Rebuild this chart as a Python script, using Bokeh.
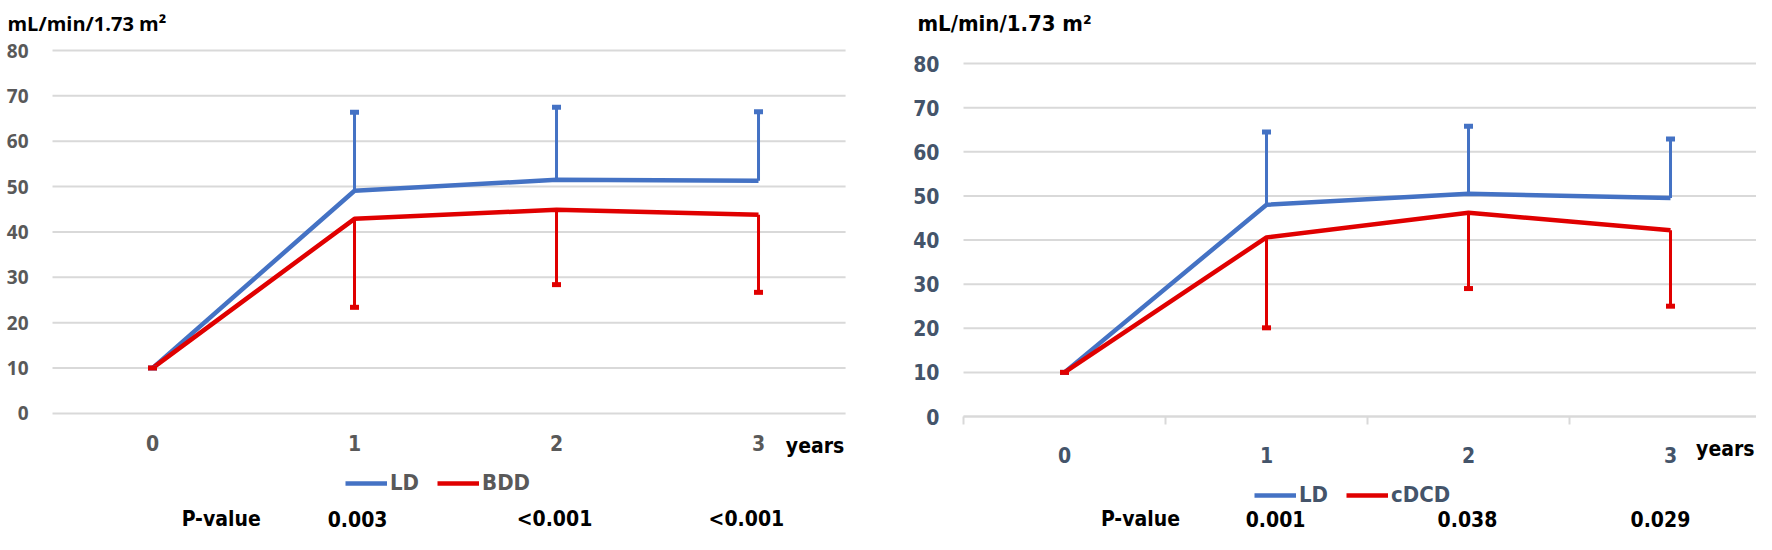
from bokeh.plotting import figure
from bokeh.models import FixedTicker, Range1d, Legend, LegendItem, Label
from bokeh.layouts import row
from bokeh.embed import file_html
from bokeh.resources import INLINE
from bokeh.core.properties import value

# ---------------- data ----------------
years = [0, 1, 2, 3]
year_labels = ["0", "1", "2", "3"]
y_ticks = [0, 10, 20, 30, 40, 50, 60, 70, 80]
unit_title = "mL/min/1.73 m\u00b2"
x_unit = "years"
p_header = "P-value"

ld_a = [10, 49.1, 51.5, 51.3]
ld_a_upper = [10, 66.4, 67.5, 66.5]
bdd = [10, 42.9, 44.9, 43.8]
bdd_lower = [10, 23.4, 28.4, 26.7]
p_a = ["0.003", "<0.001", "<0.001"]

ld_b = [10, 48.0, 50.5, 49.5]
ld_b_upper = [10, 64.5, 65.8, 62.9]
cdcd = [10, 40.6, 46.2, 42.2]
cdcd_lower = [10, 20.1, 29.0, 25.0]
p_b = ["0.001", "0.038", "0.029"]

BLUE = "#4472C4"
RED = "#E00000"
GRID = "#D9D9D9"
NARROW = "'Liberation Sans Narrow', 'DejaVu Sans Condensed', 'Roboto', sans-serif"


def panel(name2, m1, up1, m2, lo2, pvals, cfg):
    p = figure(width=878, height=534, output_backend="svg", toolbar_location=None,
               x_range=Range1d(cfg["x0"], cfg["x1"]), y_range=Range1d(cfg["y0"], cfg["y1"]),
               min_border_left=0, min_border_right=0, min_border_top=0, min_border_bottom=0)
    p.outline_line_color = None
    p.xgrid.visible = False
    p.ygrid.visible = False

    # horizontal gridlines (from the y tick values)
    n = len(y_ticks)
    p.segment(x0=[cfg["gx0"]] * n, y0=y_ticks, x1=[cfg["gx1"]] * n, y1=y_ticks,
              line_color=GRID, line_width=2)

    # y axis, fixed at the left end of the gridlines
    yax = p.yaxis[0]
    yax.fixed_location = cfg["gx0"]
    yax.ticker = FixedTicker(ticks=y_ticks)
    yax.axis_line_color = None
    yax.major_tick_line_color = None
    yax.minor_tick_line_color = None
    yax.major_tick_out = 0
    yax.major_label_standoff = 24
    yax.major_label_text_font = cfg["yfont"]
    yax.major_label_text_font_size = cfg["yfs"]
    yax.major_label_text_font_style = "bold"
    yax.major_label_text_color = cfg["tc"]

    # x axis at y = 0
    xax = p.xaxis[0]
    xax.fixed_location = 0
    xax.bounds = (cfg["gx0"], cfg["gx1"])
    xax.ticker = FixedTicker(ticks=years, minor_ticks=cfg["minor"])
    xax.major_label_overrides = {y: l for y, l in zip(years, year_labels)}
    xax.major_tick_line_color = None
    xax.major_tick_out = 0
    xax.major_tick_in = 0
    xax.minor_tick_in = 0
    xax.minor_tick_out = 8
    xax.minor_tick_line_color = GRID if cfg["minor"] else None
    xax.minor_tick_line_width = 2
    xax.axis_line_color = GRID if cfg["minor"] else None
    xax.axis_line_width = 2
    xax.major_label_standoff = 22
    xax.major_label_text_font = NARROW
    xax.major_label_text_font_size = "21px"
    xax.major_label_text_font_style = "bold"
    xax.major_label_text_color = cfg["tc"]

    # lines
    r1 = p.line(years, m1, line_color=BLUE, line_width=4.5, line_join="round")
    r2 = p.line(years, m2, line_color=RED, line_width=4.5, line_join="round")
    # error bars
    p.segment(years, m1, years, up1, line_color=BLUE, line_width=3)
    p.scatter(years, up1, marker="dash", size=9, line_width=5, line_color=BLUE)
    p.segment(years, m2, years, lo2, line_color=RED, line_width=3)
    p.scatter(years, lo2, marker="dash", size=9, line_width=5, line_color=RED)

    # "years" label
    p.text(x=[cfg["yrx"]], y=[cfg["yry"]], text=[x_unit], text_align=cfg["yra"],
           text_baseline="middle", text_font=value(NARROW), text_font_size="21px",
           text_font_style="bold", text_color="#000000")

    # P-value row
    ptxt = [p_header] + pvals
    p.text(x=cfg["px"], y=[cfg["py"]] * len(ptxt), text=ptxt, text_align="center",
           text_baseline="middle", text_font=value(NARROW), text_font_size="21px",
           text_font_style="bold", text_color="#000000")

    # unit title
    p.add_layout(Label(x=cfg["tx"], y=cfg["ty"], text=unit_title, text_font=cfg["tfont"],
                       text_font_size=cfg["tfs"], text_font_style="bold", text_color="#000000",
                       text_baseline="alphabetic", text_align="left"))

    leg = Legend(items=[LegendItem(label="LD", renderers=[r1]), LegendItem(label=name2, renderers=[r2])],
                 location=cfg["legloc"], orientation="horizontal", glyph_width=42, glyph_height=20,
                 label_standoff=3, spacing=18, padding=0, margin=0, border_line_color=None,
                 background_fill_alpha=0, label_text_font=NARROW, label_text_font_size="22px",
                 label_text_font_style="bold", label_text_color=cfg["tc"])
    p.add_layout(leg)
    return p


cfg_a = dict(x0=-0.7525, x1=3.594, y0=-26.67, y1=91.02, gx0=-0.495, gx1=3.431,
             yfont="'Open Sans', sans-serif", yfs="19px", tc="#595959",
             minor=[], yrx=3.28, yry=-7.27, yra="center",
             px=[0.34, 1.015, 1.99, 2.94], py=-23.2,
             tx=-0.718, ty=85.95, tfont="'Open Sans', sans-serif", tfs="20px",
             legloc=(345, 39))
cfg_b = dict(x0=-0.9208, x1=3.4257, y0=-26.74, y1=94.28, gx0=-0.5, gx1=3.4257,
             yfont=NARROW, yfs="21px", tc="#44546A",
             minor=[-0.5, 0.5, 1.5, 2.5], yrx=3.416, yry=-7.25, yra="right",
             px=[0.376, 1.045, 1.995, 2.95], py=-23.2,
             tx=-0.728, ty=89.07, tfont=NARROW, tfs="22px",
             legloc=(376, 27))

pa = panel("BDD", ld_a, ld_a_upper, bdd, bdd_lower, p_a, cfg_a)
pb = panel("cDCD", ld_b, ld_b_upper, cdcd, cdcd_lower, p_b, cfg_b)

layout = row(pa, pb)
open("out.html", "w").write(file_html(layout, INLINE))
